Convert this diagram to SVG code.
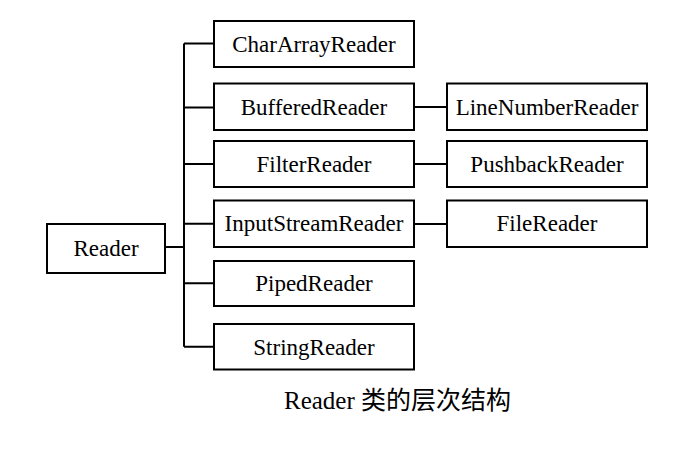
<svg xmlns="http://www.w3.org/2000/svg" width="676" height="459" viewBox="0 0 676 459">
<style>
.box{fill:#fff;stroke:#000;stroke-width:2}
.lbl{font-family:"Liberation Serif","Times New Roman",serif;font-size:23px;fill:#000;text-anchor:middle}
.cap{font-family:"Liberation Serif","Noto Sans CJK SC",serif;font-size:25px;fill:#000}
.ln{fill:none;stroke:#000;stroke-width:2}
</style>
<rect width="676" height="459" fill="#fff"/>
<g id="connectors">
<path class="ln" d="M184,43.5 V346.7"/>
<path class="ln" d="M184,43.5 H214 M184,107.5 H214 M184,164 H214 M184,223.7 H214 M184,283.3 H214 M184,346.7 H214"/>
<path class="ln" d="M165,247 H184"/>
<path class="ln" d="M414,107 H447 M414,164 H447 M414,224 H447"/>
</g>
<g id="reader"><rect class="box" x="47" y="224" width="118" height="49"/><text class="lbl" x="106" y="255.5">Reader</text></g>
<g id="chararrayreader"><rect class="box" x="214" y="21" width="200" height="46"/><text class="lbl" x="314" y="52">CharArrayReader</text></g>
<g id="bufferedreader"><rect class="box" x="214" y="83.5" width="200" height="46.5"/><text class="lbl" x="314" y="115">BufferedReader</text></g>
<g id="filterreader"><rect class="box" x="214" y="141" width="200" height="46"/><text class="lbl" x="314" y="172">FilterReader</text></g>
<g id="inputstreamreader"><rect class="box" x="214" y="200.5" width="200" height="46.5"/><text class="lbl" x="314" y="231">InputStreamReader</text></g>
<g id="pipedreader"><rect class="box" x="214" y="261" width="200" height="45"/><text class="lbl" x="314" y="290.5">PipedReader</text></g>
<g id="stringreader"><rect class="box" x="214" y="324" width="200" height="45.5"/><text class="lbl" x="314" y="354.5">StringReader</text></g>
<g id="linenumberreader"><rect class="box" x="447" y="83.5" width="200" height="46.5"/><text class="lbl" x="547" y="115">LineNumberReader</text></g>
<g id="pushbackreader"><rect class="box" x="447" y="141" width="200" height="46"/><text class="lbl" x="547" y="172">PushbackReader</text></g>
<g id="filereader"><rect class="box" x="447" y="200.5" width="200" height="46.5"/><text class="lbl" x="547" y="231">FileReader</text></g>
<text class="cap" x="284" y="409">Reader 类的层次结构</text>
</svg>
